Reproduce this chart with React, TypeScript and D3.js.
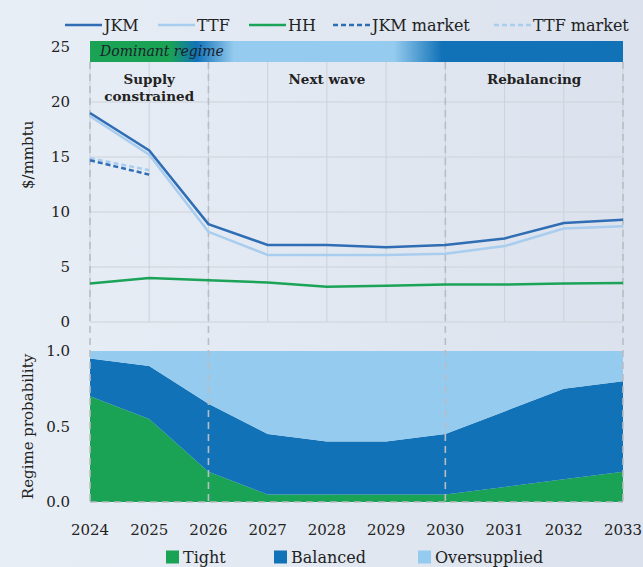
import React from 'react';
import * as d3 from 'd3';

const years = [2024, 2025, 2026, 2027, 2028, 2029, 2030, 2031, 2032, 2033];
const jkm = [19.0, 15.6, 8.9, 7.0, 7.0, 6.8, 7.0, 7.6, 9.0, 9.3];
const ttf = [18.7, 15.2, 8.2, 6.1, 6.1, 6.1, 6.2, 6.9, 8.5, 8.7];
const hh = [3.5, 4.0, 3.8, 3.6, 3.2, 3.3, 3.4, 3.4, 3.5, 3.55];
const marketYears = [2024, 2025];
const jkmMarket = [14.7, 13.4];
const ttfMarket = [14.9, 13.8];

const tight = [0.7, 0.55, 0.2, 0.05, 0.05, 0.05, 0.05, 0.1, 0.15, 0.2];
const balanced = [0.25, 0.35, 0.45, 0.4, 0.35, 0.35, 0.4, 0.5, 0.6, 0.6];
const oversupplied = [0.05, 0.1, 0.35, 0.55, 0.6, 0.6, 0.55, 0.4, 0.25, 0.2];

const priceTicks = [0, 5, 10, 15, 20, 25];
const probTicks = [0, 0.5, 1];
const regimeBreaks = [2024, 2026, 2030, 2033];
const regimeLabels = [
  { lines: ['Supply', 'constrained'], from: 2024, to: 2026 },
  { lines: ['Next wave'], from: 2026, to: 2030 },
  { lines: ['Rebalancing'], from: 2030, to: 2033 },
];

const C = {
  jkm: '#2f6db4',
  ttf: '#a9cdee',
  hh: '#1ba358',
  tight: '#1aa355',
  balanced: '#1172b8',
  over: '#95cbee',
  grid: '#cdd2d9',
  dash: '#b9bdc3',
  text: '#222',
};

const W = 643;
const H = 567;
const FONT = '"DejaVu Serif", serif';

export default function App() {
  const x = d3.scalePoint<number>().domain(years).range([90, 623]);
  const yTop = d3.scaleLinear().domain([0, 25]).range([322, 47]);
  const yBot = d3.scaleLinear().domain([0, 1]).range([502, 351]);

  const line = (vals: number[], yrs: number[] = years) =>
    d3.line<number>()
      .x((_, i) => x(yrs[i])!)
      .y(d => yTop(d))(vals) || '';

  const rows = years.map((yr, i) => ({ year: yr, tight: tight[i], balanced: balanced[i], over: oversupplied[i] }));
  const stack = d3.stack<any>().keys(['tight', 'balanced', 'over'])(rows);
  const area = d3.area<any>()
    .x(d => x(d.data.year)!)
    .y0(d => yBot(d[0]))
    .y1(d => yBot(d[1]));
  const areaColors = [C.tight, C.balanced, C.over];

  const x0 = x(2024)!;
  const x1 = x(2033)!;
  const barTop = 41;
  const barBot = 62;

  const legendTop = [
    { label: 'JKM', color: C.jkm, dash: '', x: 65 },
    { label: 'TTF', color: C.ttf, dash: '', x: 158 },
    { label: 'HH', color: C.hh, dash: '', x: 249 },
    { label: 'JKM market', color: C.jkm, dash: '5,3', x: 333 },
    { label: 'TTF market', color: C.ttf, dash: '5,3', x: 494 },
  ];
  const legendBot = [
    { label: 'Tight', color: C.tight, x: 166 },
    { label: 'Balanced', color: C.balanced, x: 274 },
    { label: 'Oversupplied', color: C.over, x: 418 },
  ];

  return (
    <svg width={W} height={H} style={{ position: 'fixed', left: 0, top: 0 }} fontFamily={FONT}>
      <defs>
        <linearGradient id="bg" x1="0" x2="1" y1="0" y2="0">
          <stop offset="0" stopColor="#e8eef6" />
          <stop offset="1" stopColor="#dbe2ed" />
        </linearGradient>
        <linearGradient id="regime" x1="0" x2="1" y1="0" y2="0">
          <stop offset="0" stopColor={C.tight} />
          <stop offset="0.15" stopColor={C.tight} />
          <stop offset="0.2" stopColor={C.balanced} />
          <stop offset="0.27" stopColor={C.over} />
          <stop offset="0.57" stopColor={C.over} />
          <stop offset="0.66" stopColor={C.balanced} />
          <stop offset="1" stopColor={C.balanced} />
        </linearGradient>
      </defs>
      <rect width={W} height={H} fill="url(#bg)" />

      {/* top legend */}
      {legendTop.map(l => (
        <g key={l.label} transform={`translate(${l.x},25)`}>
          <line x1={0} x2={37} stroke={l.color} strokeWidth={2.5} strokeDasharray={l.dash || undefined} />
          <text x={39} dy="0.35em" fontSize={16} fill={C.text}>{l.label}</text>
        </g>
      ))}

      {/* price grid */}
      {priceTicks.filter(t => t < 25).map(t => (
        <line key={t} x1={x0} x2={x1} y1={yTop(t)} y2={yTop(t)} stroke={C.grid} strokeWidth={1} />
      ))}
      {years.map(yr => (
        <line key={yr} x1={x(yr)} x2={x(yr)} y1={barBot} y2={yTop(0)} stroke={C.grid} strokeWidth={1} />
      ))}
      {priceTicks.map(t => (
        <text key={t} x={70} y={yTop(t)} dy="0.35em" textAnchor="end" fontSize={15} fill={C.text}>{t}</text>
      ))}
      <text transform={`translate(33,${yTop(15.2)}) rotate(-90)`} textAnchor="middle" fontSize={15} fill={C.text}>$/mmbtu</text>

      {/* probability areas */}
      {stack.map((s, i) => (
        <path key={s.key} d={area(s) || ''} fill={areaColors[i]} />
      ))}
      {probTicks.map(t => (
        <text key={t} x={70} y={yBot(t)} dy="0.35em" textAnchor="end" fontSize={15} fill={C.text}>{t.toFixed(1)}</text>
      ))}
      <text transform={`translate(33,${yBot(0.5)}) rotate(-90)`} textAnchor="middle" fontSize={15} fill={C.text}>Regime probability</text>

      {/* regime dividers */}
      {regimeBreaks.map(yr => (
        <line key={yr} x1={x(yr)} x2={x(yr)} y1={barBot} y2={yBot(0)} stroke={C.dash} strokeWidth={1.6} strokeDasharray="7,5" />
      ))}
      <line x1={x0} x2={x1} y1={yBot(0)} y2={yBot(0)} stroke={C.dash} strokeWidth={1.6} strokeDasharray="7,5" />

      {/* dominant regime bar */}
      <rect x={x0} y={barTop} width={x1 - x0} height={barBot - barTop} fill="url(#regime)" />
      <text x={x0 + 10} y={(barTop + barBot) / 2} dy="0.35em" fontSize={14} fontStyle="italic" fill="#1a1f2b">Dominant regime</text>

      {regimeLabels.map(r => (
        <text key={r.lines[0]} x={(x(r.from)! + x(r.to)!) / 2} y={79} textAnchor="middle" fontSize={13.5} fontWeight="bold" fill={C.text}>
          {r.lines.map((ln, j) => (
            <tspan key={ln} x={(x(r.from)! + x(r.to)!) / 2} dy={j === 0 ? '0.35em' : 17}>{ln}</tspan>
          ))}
        </text>
      ))}

      {/* price lines */}
      <path d={line(hh)} fill="none" stroke={C.hh} strokeWidth={2.5} />
      <path d={line(ttf)} fill="none" stroke={C.ttf} strokeWidth={2.5} />
      <path d={line(jkm)} fill="none" stroke={C.jkm} strokeWidth={2.5} />
      <path d={line(ttfMarket, marketYears)} fill="none" stroke={C.ttf} strokeWidth={2.5} strokeDasharray="5,3" />
      <path d={line(jkmMarket, marketYears)} fill="none" stroke={C.jkm} strokeWidth={2.5} strokeDasharray="5,3" />

      {/* x axis */}
      {years.map(yr => (
        <text key={yr} x={x(yr)} y={530} dy="0.35em" textAnchor="middle" fontSize={15} fill={C.text}>{yr}</text>
      ))}

      {/* bottom legend */}
      {legendBot.map(l => (
        <g key={l.label} transform={`translate(${l.x},557)`}>
          <rect x={0} y={-6.5} width={13} height={13} fill={l.color} />
          <text x={17} dy="0.35em" fontSize={16} fill={C.text}>{l.label}</text>
        </g>
      ))}
    </svg>
  );
}
